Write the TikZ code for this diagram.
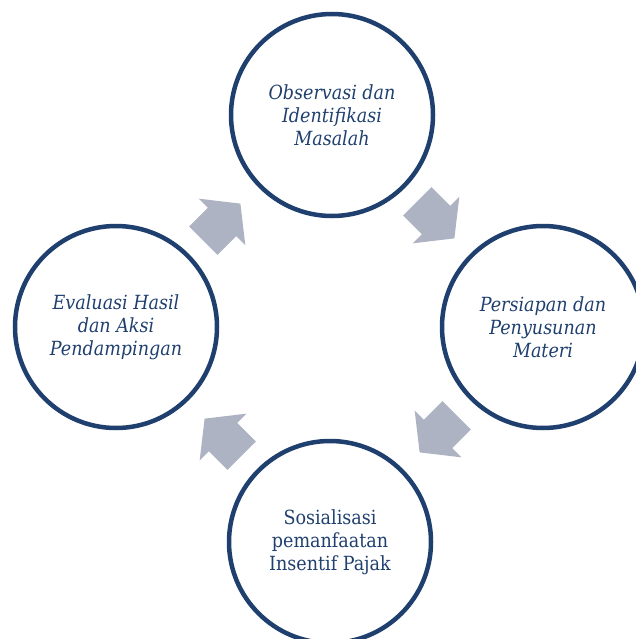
\documentclass[tikz,border=0pt]{standalone}
\usepackage{fontspec}
\setmainfont{DejaVu Serif Condensed}
\usepackage{tikz}
\definecolor{ringblue}{RGB}{31,63,110}
\definecolor{arrowgray}{RGB}{173,179,194}
\def\blockarrow(#1)(#2){\fill[arrowgray, shift={(#1)}, rotate=#2] (-26.5,-20) -- (0,-20) -- (0,-33) -- (26,0) -- (0,33) -- (0,20) -- (-26.5,20) -- cycle;}

\begin{document}
\begin{tikzpicture}[x=1pt, y=-1pt,
		stage/.style={circle, draw=ringblue, line width=4.5pt, minimum size=202pt, inner sep=0pt, align=center, text=ringblue, font=\fontsize{19.5}{23}\selectfont}]
			%%%%% START %%%%%
			\useasboundingbox (0, 0) rectangle (635, 639);
			
			\node[stage] (obs) at (332, 115) {\itshape Observasi dan\\\itshape Identifikasi\\\itshape Masalah};
			\node[stage] (prep) at (543, 327) {\itshape Persiapan dan\\\itshape Penyusunan\\\itshape Materi};
			\node[stage] (sos) at (330, 542) {Sosialisasi\\pemanfaatan\\Insentif Pajak};
			\node[stage] (eval) at (116, 327) {\itshape Evaluasi Hasil\\\itshape dan Aksi\\\itshape Pendampingan};
			
			\blockarrow(222, 222)(45)
			\blockarrow(436, 220)(-45)
			\blockarrow(438, 434)(-135)
			\blockarrow(223, 437)(135)
			
			%%%%% END %%%%%
\end{tikzpicture}
\end{document}
